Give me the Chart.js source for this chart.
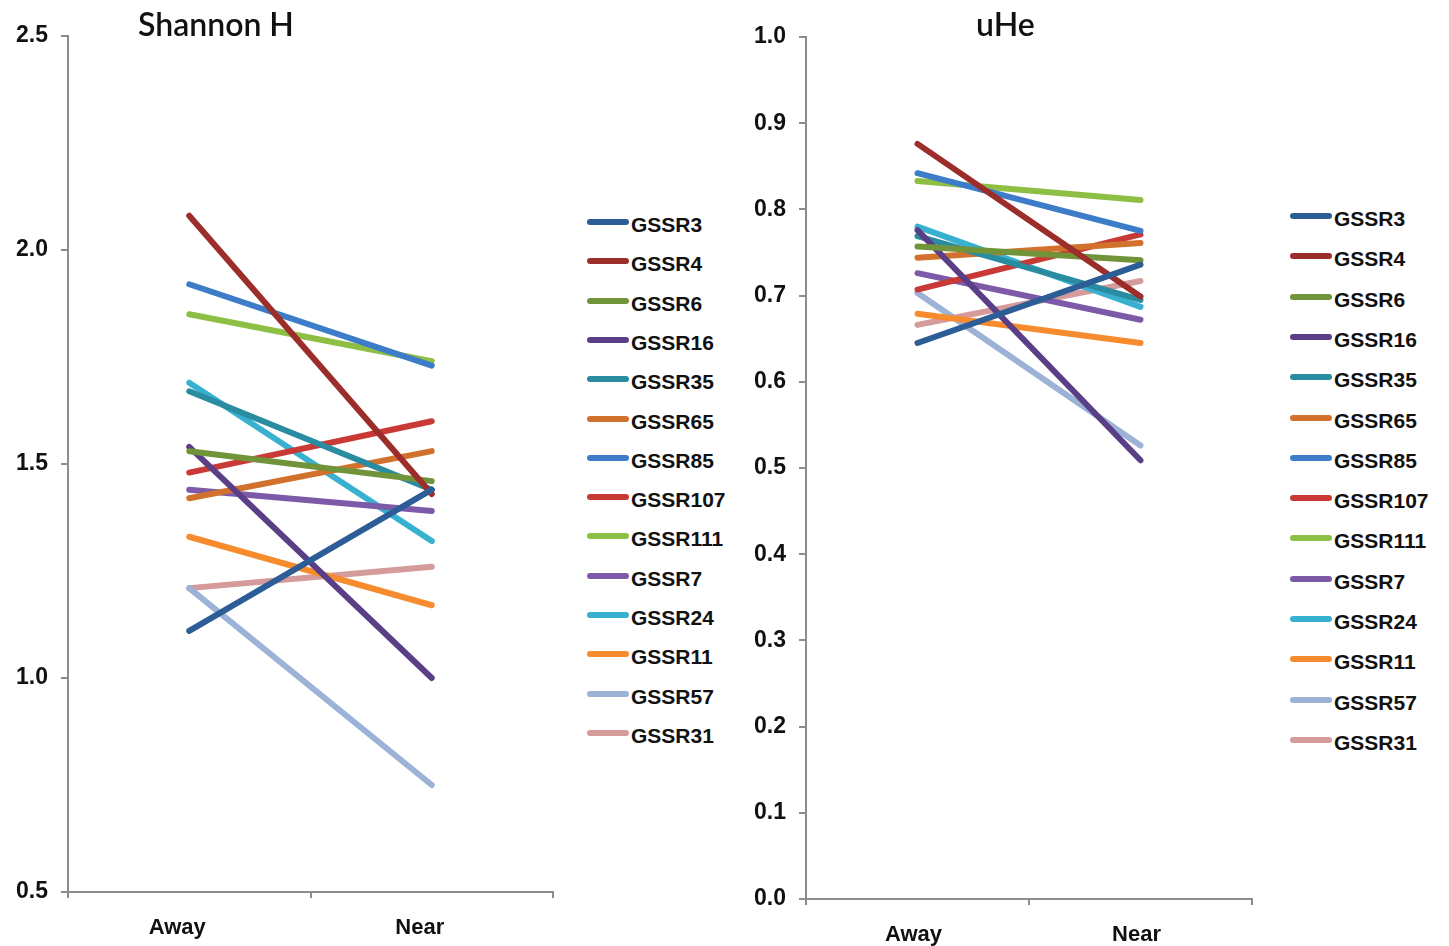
<!DOCTYPE html>
<html>
<head>
<meta charset="utf-8">
<script src="https://cdn.jsdelivr.net/npm/chart.js@4/dist/chart.umd.min.js"></script>
<style>
  body { margin: 0; background: #fff; width: 1449px; height: 946px; overflow: hidden; position: relative; }
  .box { position: absolute; top: 0; height: 946px; }
  .title { position: absolute; top: 4px; font-family: Lato, "Open Sans", sans-serif; font-size: 32px; font-weight: 600; color: #111; white-space: nowrap; }
  .legend { position: absolute; font-family: "Liberation Sans", Arial, sans-serif; font-weight: bold; font-size: 21px; color: #111; }
  .legend div { position: absolute; left: 0; white-space: nowrap; height: 26px; }
  .legend span.sw { position: absolute; left: 0; top: 8px; width: 42px; height: 6px; border-radius: 3px; }
  .legend span.tx { position: absolute; left: 44px; top: 2px; }
</style>
</head>
<body>
<div class="box" style="left:0;width:560px"><canvas id="shannonChart"></canvas></div>
<div class="box" style="left:740px;width:520px"><canvas id="uheChart"></canvas></div>
<div class="title" style="left:138px">Shannon H</div>
<div class="title" style="left:976px">uHe</div>
<div class="legend" id="legendLeft" style="left:587px;top:211px"></div>
<div class="legend" id="legendRight" style="left:1290px;top:205px"></div>
<script>
// categorias y marcadores
const categories = ['Away', 'Near'];
const markers = ['GSSR3', 'GSSR4', 'GSSR6', 'GSSR16', 'GSSR35', 'GSSR65', 'GSSR85',
  'GSSR107', 'GSSR111', 'GSSR7', 'GSSR24', 'GSSR11', 'GSSR57', 'GSSR31'];

// Shannon H
const shannonAway = [1.11, 2.08, 1.53, 1.54, 1.67, 1.42, 1.92, 1.48, 1.85, 1.44, 1.69, 1.33, 1.21, 1.21];
const shannonNear = [1.44, 1.43, 1.46, 1.00, 1.44, 1.53, 1.73, 1.60, 1.74, 1.39, 1.32, 1.17, 0.75, 1.26];

// uHe
const uheAway = [0.645, 0.876, 0.757, 0.776, 0.769, 0.744, 0.842, 0.707, 0.833, 0.726, 0.780, 0.679, 0.703, 0.666];
const uheNear = [0.736, 0.699, 0.741, 0.509, 0.695, 0.761, 0.775, 0.771, 0.811, 0.672, 0.687, 0.645, 0.526, 0.717];

const colors = ['#2c5d96', '#9b2d2a', '#71943a', '#5b3f86', '#2a8ca0', '#d2712b', '#3d7cc9',
  '#c93a36', '#8ebf45', '#7d5aa8', '#37b1cf', '#f78c2f', '#9cb2d6', '#d59a9a'];

const tickFont = { family: '"Liberation Sans", Arial, sans-serif', size: 23, weight: 'bold' };
const axisGray = '#8c8c8c';

function makeChart(id, away, near, yMin, yMax, step, yWidth, xHeight, padTop, padRight, labelOffset) {
  const ctx = document.querySelector(id).getContext('2d');
  return new Chart(ctx, {
    type: 'line',
    data: {
      labels: categories,
      datasets: markers.map((m, i) => ({
        label: m,
        data: [away[i], near[i]],
        borderColor: colors[i],
        backgroundColor: colors[i],
        borderWidth: 6,
        borderCapStyle: 'round',
        pointRadius: 0,
        fill: false
      }))
    },
    options: {
      responsive: true,
      maintainAspectRatio: false,
      animation: false,
      layout: { padding: { top: padTop, right: padRight, left: 0, bottom: 0 } },
      plugins: { legend: { display: false }, tooltip: { enabled: false } },
      scales: {
        x: {
          offset: true,
          grid: { offset: true, drawOnChartArea: false, drawTicks: true, tickLength: 6, color: axisGray, lineWidth: 2 },
          border: { color: axisGray, width: 2 },
          ticks: { font: { ...tickFont, size: 22 }, color: '#111', padding: 17, labelOffset: labelOffset },
          afterFit(scale) { scale.height = xHeight; }
        },
        y: {
          min: yMin,
          max: yMax,
          grid: { drawOnChartArea: false, drawTicks: true, tickLength: 7, color: axisGray, lineWidth: 2 },
          border: { color: axisGray, width: 2 },
          ticks: { stepSize: step, font: tickFont, color: '#111', padding: 13,
            callback: v => Number(v).toFixed(1) },
          afterFit(scale) { scale.width = yWidth; }
        }
      }
    }
  });
}

makeChart('#shannonChart', shannonAway, shannonNear, 0.5, 2.5, 0.5, 68, 54, 36, 7, -12);
makeChart('#uheChart', uheAway, uheNear, 0, 1, 0.1, 66, 47, 37, 8, -4);

// leyendas en html
function buildLegend(id, spacing) {
  const el = document.querySelector(id);
  markers.forEach((m, i) => {
    const row = document.createElement('div');
    row.style.top = (i * spacing) + 'px';
    row.innerHTML = `<span class="sw" style="background:${colors[i]}"></span><span class="tx">${m}</span>`;
    el.appendChild(row);
  });
}
buildLegend('#legendLeft', 39.3);
buildLegend('#legendRight', 40.3);
</script>
</body>
</html>
